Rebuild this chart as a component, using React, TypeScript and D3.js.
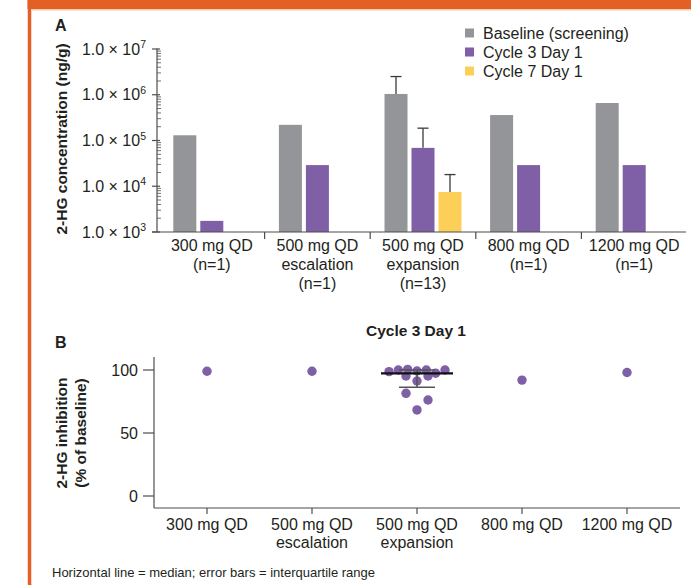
import React from "react";
import * as d3 from "d3";

// panel A data (ng/g)
const categoriesA = [
  "300 mg QD\n(n=1)",
  "500 mg QD\nescalation\n(n=1)",
  "500 mg QD\nexpansion\n(n=13)",
  "800 mg QD\n(n=1)",
  "1200 mg QD\n(n=1)",
];
const seriesNames = ["Baseline (screening)", "Cycle 3 Day 1", "Cycle 7 Day 1"];
const seriesColors = ["#939598", "#7f5fa6", "#fbcf58"];
const baselineValues = [1.3e5, 2.2e5, 1.04e6, 3.6e5, 6.6e5];
const cycle3Values = [1.75e3, 2.9e4, 6.9e4, 2.9e4, 2.9e4];
const cycle7Values = [null, null, 7.5e3, null, null];
const baselineUpper = [null, null, 2.5e6, null, null];
const cycle3Upper = [null, null, 1.86e5, null, null];
const cycle7Upper = [null, null, 1.8e4, null, null];
const yTicksA = [1e3, 1e4, 1e5, 1e6, 1e7];

// panel B data (% inhibition vs baseline)
const categoriesB = [
  "300 mg QD",
  "500 mg QD\nescalation",
  "500 mg QD\nexpansion",
  "800 mg QD",
  "1200 mg QD",
];
const inhibition300 = [99];
const inhibition500esc = [99];
const inhibition500exp = [98.7, 100, 100.5, 95.2, 99.2, 91.3, 100, 95.2, 97.4, 100, 81.5, 76.2, 68.3];
const inhibition800 = [92];
const inhibition1200 = [98];
const yTicksB = [0, 50, 100];

const textColor = "#231f20";
const font = "'Liberation Sans', Arial, sans-serif";

// Prism-style quantile: position (n+1)p
function quant(sorted: number[], p: number) {
  const pos = (sorted.length + 1) * p - 1;
  const lo = Math.floor(pos);
  const hi = Math.min(sorted.length - 1, lo + 1);
  return sorted[lo] + (sorted[hi] - sorted[lo]) * (pos - lo);
}

// scatter-dot layout: points binned into rows by value, spread sideways within a row
function rowOffsets(vals: number[], binSize = 7, top = 104) {
  const bins = d3.group(d3.range(vals.length), (i) => Math.floor((top - vals[i]) / binSize));
  const offs = new Array(vals.length).fill(0);
  bins.forEach((idx) => {
    const n = idx.length;
    if (n === 1) return;
    const step = n === 2 ? 22 : n <= 4 ? 11 : 56 / (n - 1);
    idx.forEach((i, k) => {
      offs[i] = (k - (n - 1) / 2) * step;
    });
  });
  return offs;
}

export default function App() {
  const W = 691;
  const H = 585;

  // ---- panel A scales
  const xA = d3.scaleBand().domain(categoriesA).range([159, 687]);
  const groupW = 77;
  const xInner = d3
    .scaleBand()
    .domain(seriesNames)
    .range([0, groupW])
    .paddingInner(0.148);
  const yA = d3.scaleLog().domain([1e3, 1e7]).range([232, 49]);
  const minorTicks = yA.ticks().filter((t) => !yTicksA.includes(t));
  const valuesA = [baselineValues, cycle3Values, cycle7Values];
  const upperA = [baselineUpper, cycle3Upper, cycle7Upper];

  // ---- panel B scales
  const xB = d3.scaleBand().domain(categoriesB).range([154.5, 679.5]);
  const yB = d3.scaleLinear().domain([0, 100]).range([496, 370]);
  const pointsB = [inhibition300, inhibition500esc, inhibition500exp, inhibition800, inhibition1200];

  return (
    <svg
      width={W}
      height={H}
      style={{ position: "absolute", left: 0, top: 0, background: "#fff" }}
      fontFamily={font}
    >
      {/* orange frame */}
      <rect x={29.5} y={-20} width={W + 20} height={H + 26} rx={8} fill="none" stroke="#e35f24" strokeWidth={3.5} />
      <rect x={27.5} y={0} width={W} height={9} fill="#e35f24" />
      <rect x={31} y={9} width={W} height={1.5} fill="#f6c8b0" />

      {/* ---------- Panel A ---------- */}
      <text x={55} y={31} fontSize={16} fontWeight="bold" fill={textColor}>A</text>
      <text
        transform={`translate(67,139) rotate(-90)`}
        textAnchor="middle"
        fontSize={15.5}
        fontWeight="bold"
        fill={textColor}
      >
        2-HG concentration (ng/g)
      </text>

      {/* bars */}
      {categoriesA.map((c, ci) => (
        <g key={c} transform={`translate(${(xA(c) ?? 0) + (xA.bandwidth() - groupW) / 2},0)`}>
          {seriesNames.map((s, si) => {
            const v = valuesA[si][ci];
            if (v == null) return null;
            const bx = xInner(s) ?? 0;
            const bw = xInner.bandwidth();
            const up = upperA[si][ci];
            return (
              <g key={s}>
                <rect x={bx} y={yA(v)} width={bw} height={yA(1e3) - yA(v)} fill={seriesColors[si]} />
                {up != null && (
                  <g stroke="#3a3a3a" strokeWidth={1.3}>
                    <line x1={bx + bw / 2} x2={bx + bw / 2} y1={yA(v)} y2={yA(up)} />
                    <line x1={bx + bw / 2 - 5.5} x2={bx + bw / 2 + 5.5} y1={yA(up)} y2={yA(up)} />
                  </g>
                )}
              </g>
            );
          })}
        </g>
      ))}

      {/* y axis A */}
      <g stroke="#4d4d4f" strokeWidth={1.2}>
        <line x1={157} x2={157} y1={yA(1e7) - 0.5} y2={yA(1e3)} />
        {yTicksA.map((t) => (
          <line key={t} x1={152} x2={160} y1={yA(t)} y2={yA(t)} />
        ))}
        {minorTicks.map((t) => (
          <line key={"m" + t} x1={157} x2={161} y1={yA(t)} y2={yA(t)} strokeWidth={0.8} />
        ))}
        <line x1={152} x2={686} y1={yA(1e3)} y2={yA(1e3)} />
        {categoriesA.slice(1).map((c) => (
          <line key={c} x1={xA(c)} x2={xA(c)} y1={yA(1e3)} y2={yA(1e3) + 7} />
        ))}
      </g>
      {yTicksA.map((t) => (
        <text key={t} x={146} y={yA(t) + 5.5} textAnchor="end" fontSize={16} fill={textColor}>
          1.0 × 10
          <tspan fontSize={10.5} dy={-6.5}>{Math.round(Math.log10(t))}</tspan>
        </text>
      ))}
      {categoriesA.map((c) => (
        <text key={c} textAnchor="middle" fontSize={16} fill={textColor}>
          {c.split("\n").map((line, li) => (
            <tspan key={li} x={(xA(c) ?? 0) + xA.bandwidth() / 2} y={251 + li * 19}>
              {line}
            </tspan>
          ))}
        </text>
      ))}

      {/* legend */}
      {seriesNames.map((s, si) => (
        <g key={s} transform={`translate(465,${33 + si * 19})`}>
          <rect x={0} y={-4.5} width={9} height={9} fill={seriesColors[si]} />
          <text x={18} y={5.5} fontSize={16} fill={textColor}>{s}</text>
        </g>
      ))}

      {/* ---------- Panel B ---------- */}
      <text x={55} y={348} fontSize={16} fontWeight="bold" fill={textColor}>B</text>
      <text x={416} y={336} textAnchor="middle" fontSize={15.5} fontWeight="bold" fill={textColor}>
        Cycle 3 Day 1
      </text>
      <text transform={`translate(67,433) rotate(-90)`} textAnchor="middle" fontSize={15.5} fontWeight="bold" fill={textColor}>
        2-HG inhibition
      </text>
      <text transform={`translate(86,433) rotate(-90)`} textAnchor="middle" fontSize={15.5} fontWeight="bold" fill={textColor}>
        (% of baseline)
      </text>

      <g stroke="#4d4d4f" strokeWidth={1.2}>
        <line x1={154} x2={154} y1={357} y2={508} />
        <line x1={154} x2={680} y1={508} y2={508} />
        {yTicksB.map((t) => (
          <line key={t} x1={143} x2={154} y1={yB(t)} y2={yB(t)} />
        ))}
        {categoriesB.map((c) => {
          const cx = (xB(c) ?? 0) + xB.bandwidth() / 2;
          return <line key={c} x1={cx} x2={cx} y1={508} y2={514} />;
        })}
      </g>
      {yTicksB.map((t) => (
        <text key={t} x={138} y={yB(t) + 5.5} textAnchor="end" fontSize={16} fill={textColor}>{t}</text>
      ))}
      {categoriesB.map((c) => (
        <text key={c} textAnchor="middle" fontSize={16} fill={textColor}>
          {c.split("\n").map((line, li) => (
            <tspan key={li} x={(xB(c) ?? 0) + xB.bandwidth() / 2} y={530 + li * 18}>
              {line}
            </tspan>
          ))}
        </text>
      ))}

      {/* points */}
      {categoriesB.map((c, ci) => {
        const cx = (xB(c) ?? 0) + xB.bandwidth() / 2;
        const vals = pointsB[ci];
        const offs = rowOffsets(vals);
        const sorted = [...vals].sort(d3.ascending);
        const showStats = vals.length > 2;
        const med = d3.median(vals) ?? 0;
        const q1 = showStats ? quant(sorted, 0.25) : 0;
        const q3 = showStats ? quant(sorted, 0.75) : 0;
        return (
          <g key={c}>
            {vals.map((v, i) => (
              <circle key={i} cx={cx + offs[i]} cy={yB(v)} r={4.7} fill="#7f5fa6" />
            ))}
            {showStats && (
              <g>
                <g stroke="#555" strokeWidth={1.5}>
                  <line x1={cx} x2={cx} y1={yB(q3)} y2={yB(q1)} />
                  <line x1={cx - 18} x2={cx + 18} y1={yB(q3)} y2={yB(q3)} />
                  <line x1={cx - 18} x2={cx + 18} y1={yB(q1)} y2={yB(q1)} />
                </g>
                <line x1={cx - 36} x2={cx + 36} y1={yB(med)} y2={yB(med)} stroke="#111" strokeWidth={2.2} />
              </g>
            )}
          </g>
        );
      })}

      <text x={52} y={577} fontSize={13} fill={textColor}>
        Horizontal line = median; error bars = interquartile range
      </text>
    </svg>
  );
}
